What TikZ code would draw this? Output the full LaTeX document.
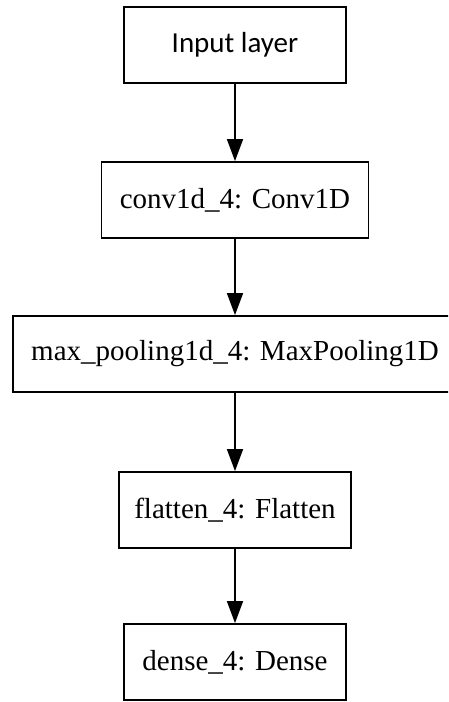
\documentclass[tikz,border=0pt]{standalone}
\usepackage{fontspec}
\setmainfont{Liberation Serif}
\newfontfamily\labelsans{Carlito}
\usetikzlibrary{arrows.meta}
\begin{document}
\begin{tikzpicture}[x=1pt,y=1pt,
  layerbox/.style={draw=black, line width=1.8pt, fill=white, inner sep=0pt,
    minimum height=76pt, font=\fontsize{29}{32}\selectfont, text=black},
  flow/.style={draw=black, line width=1.6pt,
    -{Triangle[length=22pt,width=16pt]}}]
  \clip (0,0) rectangle (448,702);
  \fill[white] (0,0) rectangle (448,702);
  % layer boxes, top to bottom
  \node[layerbox, minimum width=222pt, font=\labelsans\fontsize{29}{32}\selectfont]
    (inp) at (235,657) {Input layer};
  \node[layerbox, minimum width=267pt] (conv) at (235,502) {conv1d\_4: Conv1D};
  \node[layerbox, minimum width=444pt] (pool) at (235,348) {max\_pooling1d\_4: MaxPooling1D};
  \node[layerbox, minimum width=232pt] (flat) at (235,192) {flatten\_4: Flatten};
  \node[layerbox, minimum width=222pt] (dense) at (235,40) {dense\_4: Dense};
  % data flow between layers
  \draw[flow] (inp) -- (conv);
  \draw[flow] (conv) -- (pool);
  \draw[flow] (pool) -- (flat);
  \draw[flow] (flat) -- (dense);
\end{tikzpicture}
\end{document}
